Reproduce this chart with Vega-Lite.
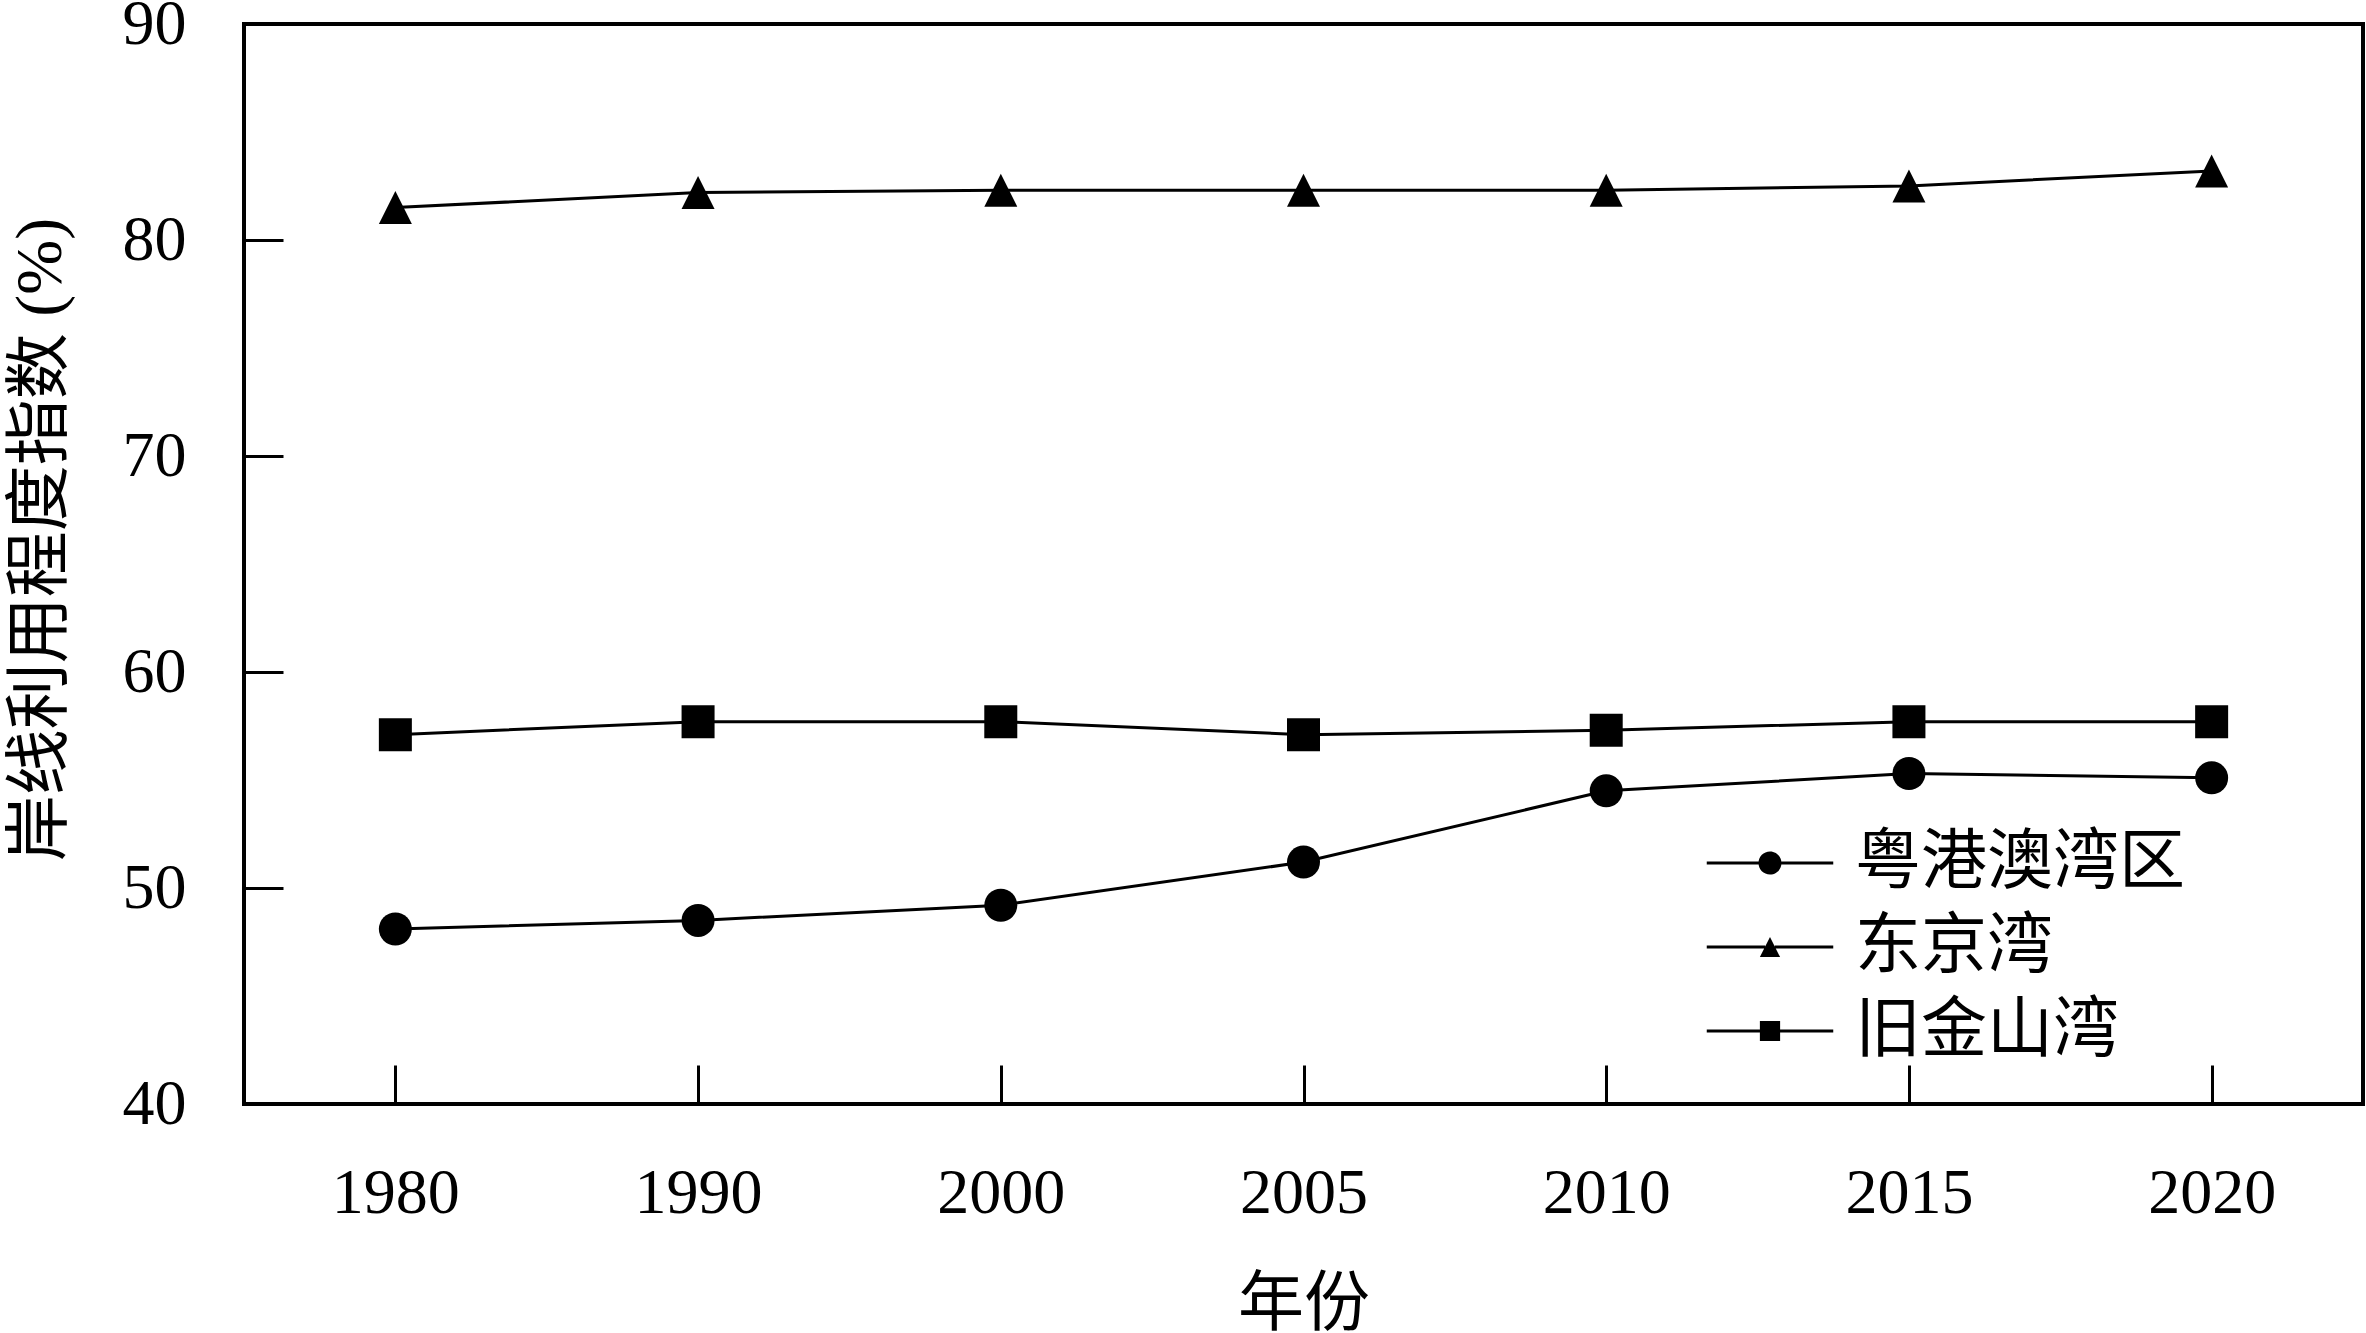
{
  "$schema": "https://vega.github.io/schema/vega-lite/v6.json",
  "autosize": {"type": "none"},
  "width": 2119,
  "height": 1080,
  "padding": {"left": 244, "top": 24, "right": 3, "bottom": 229},
  "background": "white",
  "data": {
    "values": [
      {"year": "1980", "region": "粤港澳湾区", "value": 48.1},
      {"year": "1990", "region": "粤港澳湾区", "value": 48.5},
      {"year": "2000", "region": "粤港澳湾区", "value": 49.2},
      {"year": "2005", "region": "粤港澳湾区", "value": 51.2},
      {"year": "2010", "region": "粤港澳湾区", "value": 54.5},
      {"year": "2015", "region": "粤港澳湾区", "value": 55.3},
      {"year": "2020", "region": "粤港澳湾区", "value": 55.1},
      {"year": "1980", "region": "东京湾", "value": 81.5},
      {"year": "1990", "region": "东京湾", "value": 82.2},
      {"year": "2000", "region": "东京湾", "value": 82.3},
      {"year": "2005", "region": "东京湾", "value": 82.3},
      {"year": "2010", "region": "东京湾", "value": 82.3},
      {"year": "2015", "region": "东京湾", "value": 82.5},
      {"year": "2020", "region": "东京湾", "value": 83.2},
      {"year": "1980", "region": "旧金山湾", "value": 57.1},
      {"year": "1990", "region": "旧金山湾", "value": 57.7},
      {"year": "2000", "region": "旧金山湾", "value": 57.7},
      {"year": "2005", "region": "旧金山湾", "value": 57.1},
      {"year": "2010", "region": "旧金山湾", "value": 57.3},
      {"year": "2015", "region": "旧金山湾", "value": 57.7},
      {"year": "2020", "region": "旧金山湾", "value": 57.7}
    ]
  },
  "encoding": {
    "x": {
      "field": "year",
      "type": "ordinal",
      "scale": {"type": "point", "padding": 0.5},
      "axis": {
        "title": "年份",
        "labelAngle": 0,
        "labelPadding": 96,
        "titleY": 200,
        "titleBaseline": "middle"
      }
    },
    "y": {
      "field": "value",
      "type": "quantitative",
      "scale": {"domain": [40, 90], "nice": false, "zero": false},
      "axis": {
        "title": "岸线利用程度指数 (%)",
        "values": [40, 50, 60, 70, 80, 90],
        "labelPadding": 97,
        "titleX": -170,
        "titleY": 515,
        "titleBaseline": "bottom"
      }
    }
  },
  "layer": [
    {
      "mark": {"type": "line", "color": "black", "strokeWidth": 3},
      "encoding": {"detail": {"field": "region", "type": "nominal"}}
    },
    {
      "mark": {"type": "point", "filled": true, "size": 1089, "color": "black", "opacity": 1},
      "encoding": {
        "shape": {
          "field": "region",
          "type": "nominal",
          "scale": {
            "domain": ["粤港澳湾区", "东京湾", "旧金山湾"],
            "range": ["circle", "M0,-1L1,1L-1,1Z", "square"]
          },
          "legend": null
        }
      }
    },
    {
      "transform": [{"filter": "datum.value < 0"}],
      "mark": {"type": "point", "filled": true, "size": 529, "color": "black", "opacity": 1},
      "encoding": {
        "shape": {
          "field": "region",
          "type": "nominal",
          "scale": {
            "domain": ["粤港澳湾区", "东京湾", "旧金山湾"],
            "range": [
              "M-5.5,-0.13H-0.99V0.13H-5.5ZM0.99,-0.13H5.5V0.13H0.99ZM1,0A1,1,0,1,1,-1,0A1,1,0,1,1,1,0Z",
              "M-5.5,-0.13H-0.42V0.13H-5.5ZM0.42,-0.13H5.5V0.13H0.42ZM0,-0.88L0.88,0.88L-0.88,0.88Z",
              "M-5.5,-0.13H-0.88V0.13H-5.5ZM0.88,-0.13H5.5V0.13H0.88ZM-0.88,-0.88H0.88V0.88H-0.88Z"
            ]
          },
          "legend": {
            "title": null,
            "orient": "none",
            "legendX": 1493,
            "legendY": 806,
            "padding": 0,
            "symbolSize": 529,
            "symbolFillColor": "black",
            "symbolStrokeWidth": 0,
            "symbolOpacity": 1,
            "labelOffset": 52,
            "labelFontSize": 66,
            "labelColor": "black",
            "labelLimit": 1000,
            "rowPadding": 18
          }
        }
      }
    }
  ],
  "resolve": {"scale": {"shape": "independent"}},
  "config": {
    "font": "'Liberation Serif', 'Noto Sans CJK SC'",
    "view": {"stroke": "black", "strokeWidth": 4},
    "axis": {
      "domain": false,
      "grid": false,
      "ticks": true,
      "tickSize": -39,
      "tickWidth": 3,
      "tickColor": "black",
      "labelFont": "'Liberation Serif', 'Noto Sans CJK SC'",
      "labelFontSize": 64,
      "labelColor": "black",
      "titleFont": "'Liberation Serif', 'Noto Sans CJK SC'",
      "titleFontSize": 66,
      "titleFontWeight": "normal",
      "titleColor": "black"
    },
    "legend": {
      "labelFont": "'Liberation Serif', 'Noto Sans CJK SC'"
    }
  }
}
